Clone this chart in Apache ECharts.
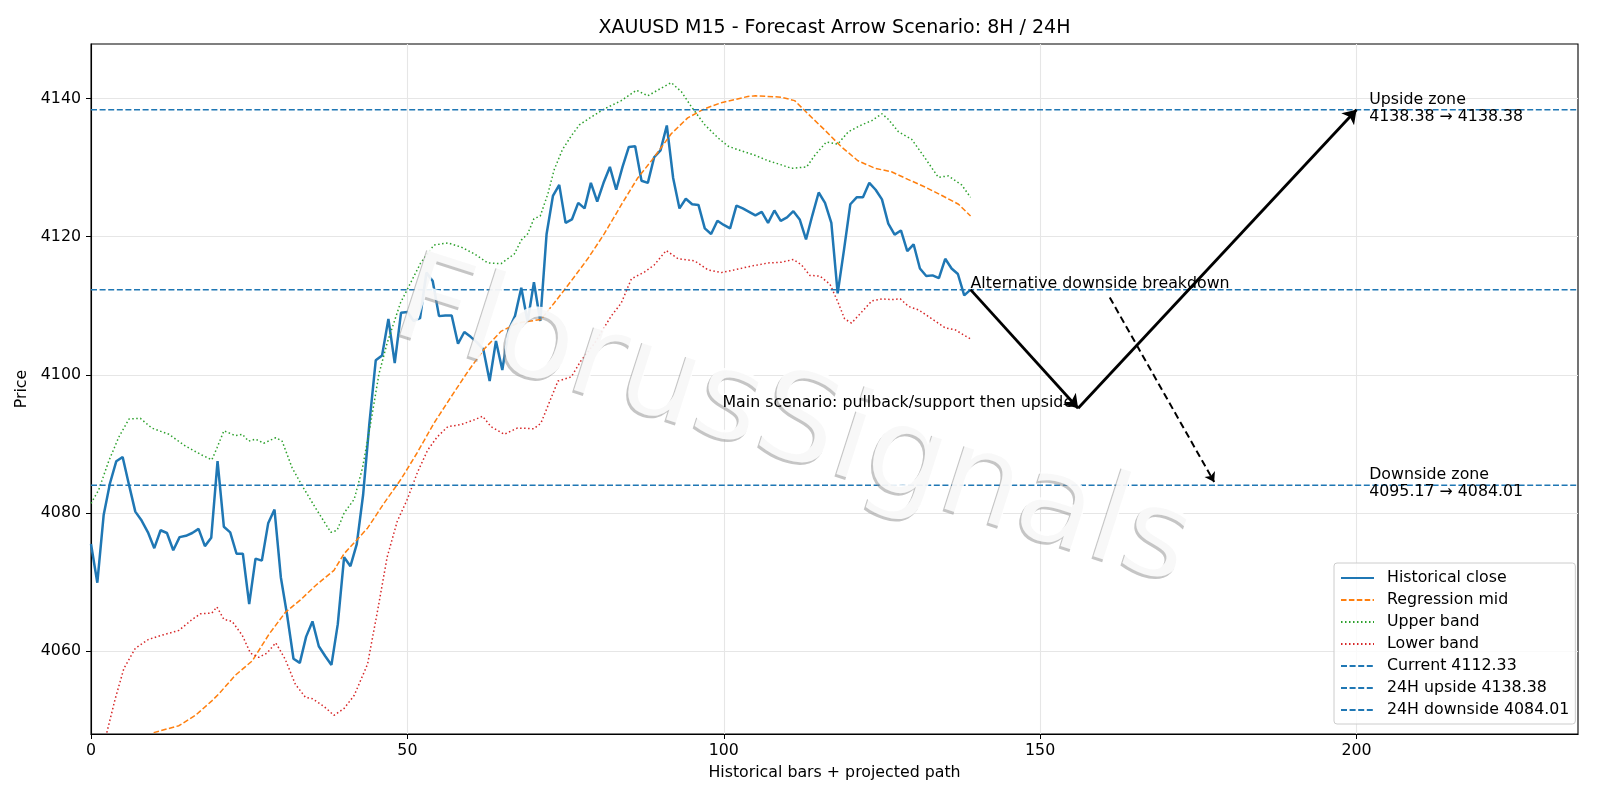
<!DOCTYPE html>
<html>
<head>
<meta charset="utf-8">
<script src="https://cdn.jsdelivr.net/npm/echarts@6/dist/echarts.min.js"></script>
<style>html,body{margin:0;background:#fff}#c{width:1600px;height:800px}</style>
</head>
<body>
<div id="c"></div>
<script>
// XAUUSD M15 — scenario arrows
const FONT = '"DejaVu Sans", sans-serif';
const FS = 15.8;
const C = { blue: '#1f77b4', orange: '#ff7f0e', green: '#2ca02c', red: '#d62728', ink: '#000', grid: '#e6e6e6' };

const X_MIN = 0, X_MAX = 235, Y_MIN = 4048, Y_MAX = 4147.9;
const xTicks = [0, 50, 100, 150, 200];
const yTicks = [4060, 4080, 4100, 4120, 4140];

// historical close, one per bar (bar 0..139)
const closes = [
  4075.5, 4069.9, 4079.7, 4084.3, 4087.5, 4088.1, 4084.1, 4080.2, 4078.9, 4077.2,
  4074.9, 4077.5, 4077.1, 4074.6, 4076.5, 4076.7, 4077.1, 4077.7, 4075.2, 4076.4,
  4087.5, 4078.0, 4077.2, 4074.1, 4074.1, 4066.8, 4073.4, 4073.1, 4078.5, 4080.5,
  4070.7, 4065.2, 4058.9, 4058.3, 4062.1, 4064.3, 4060.7, 4059.3, 4058.0, 4063.9,
  4073.6, 4072.3, 4075.5, 4082.6, 4093.0, 4102.1, 4102.8, 4108.1, 4101.7, 4109.0,
  4109.1, 4107.8, 4108.2, 4114.8, 4113.6, 4108.5, 4108.6, 4108.6, 4104.5, 4106.2,
  4105.5, 4104.7, 4103.7, 4099.1, 4104.9, 4100.7, 4106.5, 4108.5, 4112.6, 4107.7,
  4113.4, 4107.8, 4120.4, 4125.9, 4127.5, 4122.0, 4122.5, 4124.9, 4124.1, 4127.8,
  4125.1, 4127.8, 4130.1, 4126.8, 4130.1, 4133.0, 4133.1, 4128.1, 4127.8, 4131.5,
  4132.5, 4136.1, 4128.5, 4124.1, 4125.5, 4124.7, 4124.6, 4121.2, 4120.4, 4122.3,
  4121.7, 4121.2, 4124.5, 4124.1, 4123.6, 4123.1, 4123.6, 4122.0, 4123.8, 4122.3,
  4122.8, 4123.7, 4122.5, 4119.6, 4123.1, 4126.4, 4124.9, 4122.0, 4111.8, 4118.1,
  4124.7, 4125.7, 4125.7, 4127.8, 4126.8, 4125.4, 4121.9, 4120.3, 4120.9, 4117.9,
  4118.9, 4115.4, 4114.3, 4114.4, 4114.0, 4116.8, 4115.4, 4114.6, 4111.5, 4112.33
];

// regression mid (visible part only, [bar, price])
const mid = [
  [9.9, 4048.2], [13.9, 4049.2], [16.5, 4050.7], [19.1, 4052.8], [20.2, 4053.8], [22.8, 4056.5],
  [25.5, 4058.6], [28.1, 4062.4], [30.7, 4065.6], [33.2, 4067.5], [35.5, 4069.5], [38.4, 4071.7],
  [40, 4074.1], [43.7, 4077.8], [46.3, 4081.4], [49, 4084.9], [51.6, 4088.8], [54.2, 4093],
  [56.9, 4096.8], [59.5, 4100.4], [62.1, 4103.7], [64.8, 4106.3], [67.4, 4107.5], [69.5, 4107.8],
  [71.1, 4108.0], [73.2, 4110.4], [75.9, 4113.6], [78.5, 4116.8], [81.1, 4120.4], [83.8, 4124.6],
  [86.4, 4128.5], [89, 4131.5], [91.7, 4134.9], [94.3, 4137.2], [96.9, 4138.5], [99.6, 4139.4],
  [103.8, 4140.3], [105, 4140.4], [109.1, 4140.2], [111.2, 4139.7], [113.3, 4137.8], [115.9, 4135.5],
  [118.6, 4133], [121.2, 4131], [123.9, 4129.9], [126.5, 4129.4], [129.1, 4128.3], [131.8, 4127.2],
  [134.4, 4126], [137.1, 4124.7], [139, 4123]
];

const upper = [
  [0, 4081.4], [1.2, 4083.3], [2.8, 4087.5], [4.4, 4091], [6, 4093.6], [7.8, 4093.7], [9.6, 4092.3],
  [12.3, 4091.4], [14.9, 4089.7], [17.5, 4088.4], [19.1, 4087.7], [19.9, 4089.4], [21, 4091.9],
  [22.8, 4091.2], [23.9, 4091.4], [24.9, 4090.4], [26, 4090.7], [27.3, 4090.1], [29.2, 4090.9],
  [30.2, 4090.4], [31.8, 4086.5], [33.4, 4083.9], [35.5, 4080.7], [37.9, 4077.2], [38.9, 4077.5],
  [40, 4080], [41.6, 4082], [42.9, 4086.5], [44.2, 4093], [45.5, 4100.1], [46.8, 4104.6],
  [48.9, 4110.4], [50.5, 4113.3], [52.1, 4116.2], [54.2, 4118.8], [56.4, 4119.1], [58.5, 4118.5],
  [60.6, 4117.5], [62.7, 4116.2], [64.8, 4116.1], [66.9, 4117.5], [68, 4119.5], [69, 4120.4],
  [70, 4122.6], [71, 4123], [72.2, 4126.2], [73.2, 4129.7], [74.5, 4132.6], [75.9, 4134.6],
  [77.2, 4136.2], [78.5, 4137], [81.1, 4138.5], [83.8, 4139.7], [86.2, 4141.2], [88, 4140.4],
  [90.1, 4141.5], [91.7, 4142.3], [93.3, 4141], [94.9, 4138.8], [97, 4136.2], [99.1, 4134.3],
  [100.7, 4133.1], [102.2, 4132.6], [104.9, 4131.8], [107, 4131], [109.1, 4130.4], [110.7, 4129.9],
  [113.1, 4130.1], [114.4, 4131.8], [116.2, 4133.7], [118, 4133.4], [119.7, 4135.2], [121.8, 4136.2],
  [123.4, 4136.8], [125, 4137.8], [126, 4137], [127.6, 4135.2], [129.7, 4134.1], [131.8, 4131.4],
  [133.9, 4128.6], [135.5, 4128.8], [137.6, 4127.5], [139, 4125.7]
];

const lower = [
  [2.5, 4048.2], [3.8, 4053], [5.2, 4057.5], [7, 4060.4], [9.1, 4061.7], [11.2, 4062.3], [13.9, 4063],
  [16, 4064.6], [17.3, 4065.4], [19.1, 4065.5], [19.9, 4066.4], [21, 4064.6], [22.3, 4064.3],
  [23.9, 4062.3], [25.2, 4059.7], [26.5, 4059.1], [27.8, 4059.7], [29.2, 4061.2], [30.7, 4058.8],
  [32.3, 4055.2], [33.9, 4053.3], [35, 4053.1], [36.8, 4052], [38.4, 4050.7], [40, 4051.7],
  [41.6, 4053.6], [43.7, 4058.1], [45.3, 4065.9], [46.8, 4073.6], [48.4, 4078.8], [50, 4082],
  [51.6, 4085.9], [53.2, 4089.1], [54.7, 4091], [56.4, 4092.5], [58.5, 4092.8], [60.6, 4093.5],
  [61.9, 4094], [63.2, 4092.5], [65.3, 4091.4], [67.4, 4092.3], [70, 4092.2], [71.1, 4093],
  [72.2, 4095.5], [73.8, 4099.1], [75.9, 4099.7], [77.4, 4102], [79.6, 4104.6], [82.2, 4108.5],
  [83.8, 4110.4], [85.4, 4113.9], [87.5, 4114.9], [89, 4115.9], [90.9, 4118], [92.8, 4116.8],
  [95.4, 4116.5], [97.5, 4115.2], [99.6, 4114.8], [101.7, 4115.2], [104.1, 4115.7], [107, 4116.2],
  [109.1, 4116.3], [111, 4116.7], [112.3, 4115.9], [113.6, 4114.4], [115.2, 4114.3], [116.8, 4113.1],
  [118.1, 4110.4], [119.1, 4108.1], [120.2, 4107.5], [121.8, 4109.1], [123.4, 4110.7], [125, 4111],
  [126.5, 4110.9], [127.9, 4111], [129.2, 4109.9], [130.8, 4109.4], [132.9, 4108.1], [135, 4106.8],
  [136.6, 4106.5], [139, 4105.2]
];

const current = 4112.33, upside = 4138.38, downside = 4084.01, pullback = 4095.17;
// projected paths [bar, price]
const mainPath = [[139, current], [156, pullback], [200, upside]];
const altPath = [[161, 4111.2], [177.5, 4084.5]];

const notes = [
  { at: [139, current], text: 'Alternative downside breakdown', align: 'left', offset: [0, -6] },
  { at: [156, pullback], text: 'Main scenario: pullback/support then upside', align: 'right', offset: [-5, -5] },
  { at: [202, upside], text: 'Upside zone\n4138.38 \u2192 4138.38', align: 'left', offset: [0, -1.5] },
  { at: [202, downside], text: 'Downside zone\n4095.17 \u2192 4084.01', align: 'left', offset: [0, -1.5] },
];

const chart = echarts.init(document.getElementById('c'));

const lineS = (name, data, color, width, type) => ({
  name, type: 'line', data, symbol: 'none', showSymbol: false, animation: false,
  color, lineStyle: { color, width, type }, z: 3,
});
const hline = (name, v) => lineS(name, [[X_MIN, v], [X_MAX, v]], C.blue, 1.5, [6, 2.6]);

const axisText = { color: C.ink, fontFamily: FONT, fontSize: FS };
const mark = (dx, dy, fill, z) => ({
  type: 'text', x: 793 + dx, y: 426 + dy, rotation: -0.31, z, silent: true,
  style: { text: 'FlorusSignals', fill, fontFamily: FONT, fontSize: 125, align: 'center', verticalAlign: 'middle' },
});

chart.setOption({
  animation: false,
  grid: { left: 91, right: 22, top: 44, bottom: 66, show: true, borderColor: C.ink, borderWidth: 1.1 },
  xAxis: {
    type: 'value', min: X_MIN, max: X_MAX,
    name: 'Historical bars + projected path', nameLocation: 'middle', nameGap: 31, nameTextStyle: axisText,
    axisLine: { lineStyle: { color: C.ink, width: 1.1 } },
    axisTick: { show: true, length: 5, lineStyle: { color: C.ink }, customValues: xTicks },
    axisLabel: { ...axisText, margin: 9, customValues: xTicks, formatter: (v) => String(v) },
    splitLine: { show: true, lineStyle: { color: C.grid, width: 1.1 } },
  },
  yAxis: {
    type: 'value', min: Y_MIN, max: Y_MAX,
    name: 'Price', nameLocation: 'middle', nameGap: 58, nameTextStyle: axisText,
    axisLine: { show: true, lineStyle: { color: C.ink, width: 1.1 } },
    axisTick: { show: true, length: 5, lineStyle: { color: C.ink }, customValues: yTicks },
    axisLabel: { ...axisText, margin: 10, customValues: yTicks, formatter: (v) => String(v) },
    splitLine: { show: true, lineStyle: { color: C.grid, width: 1.1 } },
  },
  legend: {
    orient: 'vertical', left: 1334, top: 563,
    data: ['Historical close', 'Regression mid', 'Upper band', 'Lower band',
      'Current 4112.33', '24H upside 4138.38', '24H downside 4084.01'],
    itemWidth: 33, itemHeight: 14, itemGap: 6, padding: [7, 6, 6, 6],
    itemStyle: { opacity: 0 },
    backgroundColor: 'rgba(255,255,255,0.8)', borderColor: '#cccccc', borderWidth: 1, borderRadius: 3,
    textStyle: { color: C.ink, fontFamily: FONT, fontSize: FS, lineHeight: 16, padding: [0, 0, 0, 8] },
    z: 20,
  },
  graphic: [
    { type: 'text', x: 834.5, y: 28, z: 30,
      style: { text: 'XAUUSD M15 - Forecast Arrow Scenario: 8H / 24H', fill: C.ink, fontFamily: FONT, fontSize: 19,
        align: 'center', verticalAlign: 'middle' } },
    // watermark: grey copy slightly offset, white face on top
    mark(-2, 2.5, 'rgba(150,150,150,0.55)', 15),
    mark(0, 0, 'rgba(255,255,255,0.88)', 16),
  ],
  series: [
    lineS('Historical close', closes.map((v, i) => [i, v]), C.blue, 2.5, 'solid'),
    lineS('Regression mid', mid, C.orange, 1.5, [5.5, 2.4]),
    lineS('Upper band', upper, C.green, 1.5, [1.5, 2.5]),
    lineS('Lower band', lower, C.red, 1.5, [1.5, 2.5]),
    hline('Current 4112.33', current),
    hline('24H upside 4138.38', upside),
    hline('24H downside 4084.01', downside),
    {
      type: 'lines', coordinateSystem: 'cartesian2d', z: 18, animation: false,
      symbol: ['none', 'arrow'], symbolSize: 13,
      lineStyle: { color: C.ink, width: 2.8, opacity: 1 },
      data: mainPath.slice(1).map((p, i) => ({ coords: [mainPath[i], p] })),
    },
    {
      type: 'lines', coordinateSystem: 'cartesian2d', z: 18, animation: false,
      symbol: ['none', 'arrow'], symbolSize: 9,
      lineStyle: { color: C.ink, width: 2, type: [7, 4], opacity: 1 },
      data: [{ coords: altPath }],
    },
    {
      type: 'scatter', z: 30, symbolSize: 1, itemStyle: { color: 'rgba(0,0,0,0)' }, silent: true,
      data: notes.map((n) => ({
        value: n.at,
        label: { show: true, position: 'inside', formatter: n.text, align: n.align, verticalAlign: 'middle',
          offset: n.offset, color: '#000', opacity: 1, textBorderWidth: 0, fontFamily: FONT, fontSize: FS, lineHeight: 17 },
      })),
    },
  ],
});
</script>
</body>
</html>
